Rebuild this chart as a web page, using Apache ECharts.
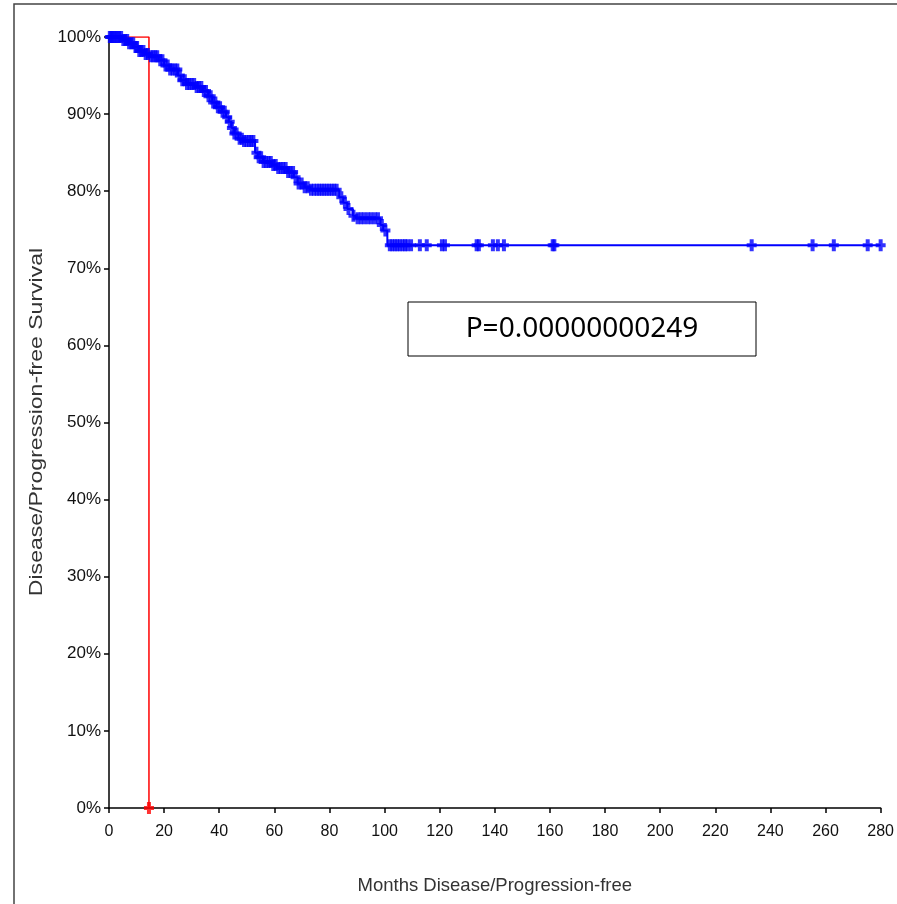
<!DOCTYPE html>
<html><head><meta charset="utf-8">
<script src="https://cdn.jsdelivr.net/npm/echarts@6/dist/echarts.min.js"></script>
<style>html,body{margin:0;padding:0;background:#fff}#c{width:897px;height:904px}</style>
</head><body><div id="c"></div>
<script>
// Blue group: Kaplan-Meier step points (month, survival %)
const kmTimes = [0,5,7,9,11,13,15,18,20,22,25,26,28,31,34,36,37.5,39,41,42.5,43.5,44.5,45.5,47,48.5,53,54,56,59,61,65,67,68.5,71,73,83.5,85,86.5,88.5,89.5,98.5,99.5,101,280];
const kmSurv  = [100,99.6,99.2,98.7,98.2,97.8,97.5,97.0,96.3,95.8,95.0,94.4,93.9,93.5,93.0,92.3,91.5,90.9,90.3,89.6,89.0,88.2,87.5,86.8,86.5,85.0,84.4,83.8,83.4,83.0,82.5,81.8,81.0,80.5,80.2,79.2,78.5,77.7,76.8,76.5,75.6,74.9,73.0,73.0];
// Blue group: censored times (months)
const censorTimes = [0.3,0.8,1.2,1.9,2.4,3.1,3.7,4.4,5.2,5.9,6.6,7.3,8.1,8.8,9.6,10.2,11,11.7,12.5,13.3,14.1,15.2,16,16.8,17.5,18.6,19.4,20.5,21.3,22.2,23.1,24,24.8,25.7,26.6,27.5,28.3,29.2,30,30.9,31.8,32.6,33.5,34.4,35.2,36.1,36.9,37.8,38.6,39.5,40.3,41.2,42,42.9,43.8,44.6,45.5,46.3,47.4,48.2,49,49.9,50.8,51.6,52.4,53.5,54.3,55.2,56.1,57,57.9,58.7,59.6,60.5,61.4,62.3,63.2,64.1,65,65.9,66.8,67.7,68.8,69.9,71,72.1,73.3,74.4,75.4,76.3,77.2,78.1,79,79.9,80.8,81.7,82.6,84.3,85.6,86.9,88.7,90.2,91.4,92.6,93.9,95.1,96.4,97.6,99,100.3,101.9,102.8,103.7,104.6,105.5,106.5,107.4,108.3,109.6,112.8,115.3,120.8,121.9,133.4,134.2,139.3,141.1,143.3,161.0,161.6,233.2,255.3,263.0,275.3,280];
// Red group
const redTimes = [0,14.5,14.5];
const redSurv  = [100,100,0];
const redCensor = [[14.5,0]];
const yTickLabels = ['0%','10%','20%','30%','40%','50%','60%','70%','80%','90%','100%'];
const xTitle = 'Months Disease/Progression-free';
const yTitle = 'Disease/Progression-free Survival';
const pText = 'P=0.00000000249';

function survAt(t){let s=kmSurv[0];for(let i=0;i<kmTimes.length;i++){if(kmTimes[i]<=t)s=kmSurv[i];else break;}return s;}
const kmData = kmTimes.map((t,i)=>[t,kmSurv[i]]);
const censorData = censorTimes.map(t=>[t,survAt(t)]);
const redData = redTimes.map((t,i)=>[t,redSurv[i]]);
const plus = 'path://M3,0H7V4H10V8H7V12H3V8H0V4H3Z';

const chart = echarts.init(document.getElementById('c'));
chart.setOption({
  animation:false,
  grid:{left:109,right:16,top:37,bottom:96},
  xAxis:{type:'value',min:0,max:280,interval:20,
    name:xTitle,nameLocation:'middle',nameGap:68,
    nameTextStyle:{fontFamily:'Liberation Sans',fontSize:18.5,color:'#333'},
    axisLine:{lineStyle:{color:'#000',width:1.5}},
    axisTick:{length:5,lineStyle:{color:'#000',width:1.5}},
    axisLabel:{fontFamily:'Liberation Sans',fontSize:16,color:'#111',margin:16},
    splitLine:{show:false}},
  yAxis:{type:'value',min:0,max:100,interval:10,
    axisLine:{show:true,lineStyle:{color:'#000',width:1.5}},
    axisTick:{show:true,length:5,lineStyle:{color:'#000',width:1.5}},
    axisLabel:{fontFamily:'Liberation Sans',fontSize:17,color:'#111',margin:8,
      formatter:(v)=>yTickLabels[Math.round(v/10)]},
    splitLine:{show:false}},
  series:[
    {type:'line',data:redData,symbol:'none',lineStyle:{color:'#ff0000',width:1.5},z:2},
    {type:'scatter',data:redCensor,symbol:plus,symbolSize:[10,12],itemStyle:{color:'#ff0000'},z:3},
    {type:'line',step:'end',data:kmData,symbol:'none',lineStyle:{color:'#0000ff',width:2},z:4},
    {type:'scatter',data:censorData,symbol:plus,symbolSize:[10,12],itemStyle:{color:'#0000ff'},z:5}
  ],
  graphic:[
    {type:'rect',shape:{x:14,y:4,width:900,height:920},style:{fill:'none',stroke:'#444',lineWidth:1.5},silent:true},
    {type:'text',x:37,y:422,rotation:Math.PI/2,scaleX:1.28,
      style:{text:yTitle,fontFamily:'Liberation Sans',fontSize:18,fill:'#333',align:'center',verticalAlign:'middle'}},
    {type:'rect',shape:{x:408,y:302,width:348,height:54},style:{fill:'#fff',stroke:'#000',lineWidth:1},z:10},
    {type:'text',x:582,y:329,style:{text:pText,fontFamily:'Noto Sans',fontSize:28,fill:'#000',align:'center',verticalAlign:'middle'},z:11}
  ]
});
</script></body></html>
